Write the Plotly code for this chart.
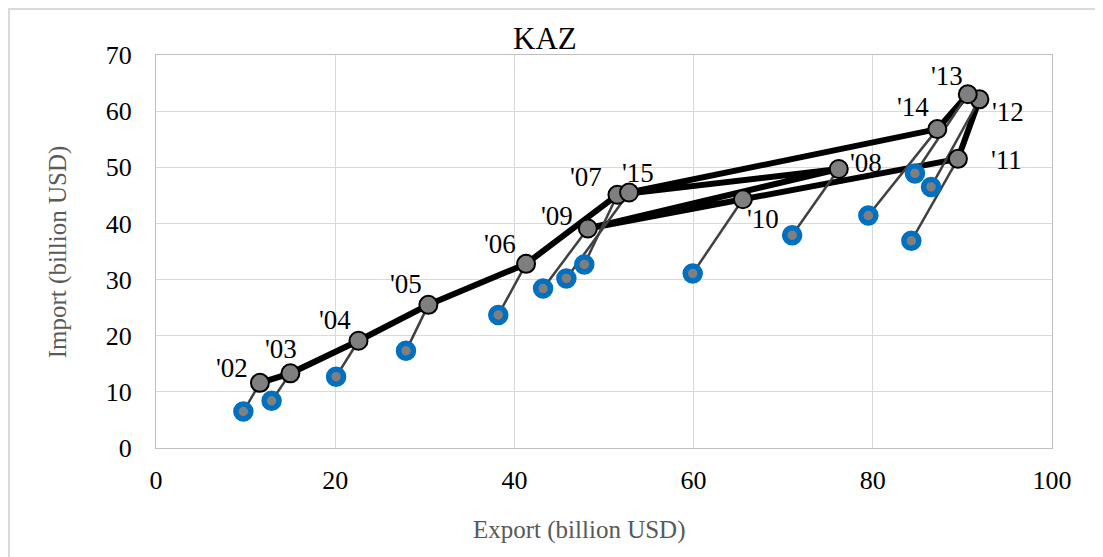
import plotly.graph_objects as go

YEARS = ["'02", "'03", "'04", "'05", "'06", "'07", "'08",
         "'09", "'10", "'11", "'12", "'13", "'14", "'15"]

# upper series (grey markers joined by the thick black path)
EXPORT_A = [11.6, 15.0, 22.6, 30.4, 41.3, 51.5, 76.2, 48.2, 65.5, 89.5, 91.9, 90.6, 87.2, 52.8]
IMPORT_A = [11.6, 13.3, 19.1, 25.5, 32.8, 45.1, 49.7, 39.1, 44.3, 51.5, 62.1, 63.0, 56.8, 45.5]

# lower series (blue ring markers)
EXPORT_B = [9.75, 12.9, 20.1, 27.9, 38.2, 47.8, 71.0, 43.2, 59.9, 84.3, 86.5, 84.7, 79.5, 45.8]
IMPORT_B = [6.5, 8.4, 12.7, 17.3, 23.7, 32.7, 37.9, 28.4, 31.1, 36.9, 46.5, 48.9, 41.4, 30.2]

X_TICKS = [0, 20, 40, 60, 80, 100]
Y_TICKS = [0, 10, 20, 30, 40, 50, 60, 70]

# label offsets in pixels (xshift, yshift)
LABEL_SHIFT = [(-28, 15), (-9, 24), (-24, 21), (-22, 21), (-26, 20), (-31, 18), (27, 6),
               (-31, 12), (20, -20), (49, -1), (29, -13), (-21, 18), (-24, 22), (9, 20)]

FONT = "Liberation Serif, Times New Roman, serif"

cx, cy = [], []
for xa, ya, xb, yb in zip(EXPORT_A, IMPORT_A, EXPORT_B, IMPORT_B):
    cx += [xb, xa, None]
    cy += [yb, ya, None]

fig = go.Figure()
fig.add_trace(go.Scatter(x=EXPORT_A, y=IMPORT_A, mode="lines",
                         line=dict(color="black", width=6), hoverinfo="skip"))
fig.add_trace(go.Scatter(x=cx, y=cy, mode="lines",
                         line=dict(color="#404040", width=2.5), hoverinfo="skip"))
fig.add_trace(go.Scatter(x=EXPORT_B, y=IMPORT_B, mode="markers",
                         marker=dict(size=15, color="#7f7f7f",
                                     line=dict(color="#0070C0", width=5.5))))
fig.add_trace(go.Scatter(x=EXPORT_A, y=IMPORT_A, mode="markers",
                         marker=dict(size=18, color="#7f7f7f",
                                     line=dict(color="black", width=2))))

for lab, xa, ya, (dx, dy) in zip(YEARS, EXPORT_A, IMPORT_A, LABEL_SHIFT):
    fig.add_annotation(x=xa, y=ya, text=lab, showarrow=False, xshift=dx, yshift=dy,
                       font=dict(family=FONT, size=27, color="black"))

fig.add_annotation(x=0.434, y=1.043, xref="paper", yref="paper", text="KAZ",
                   xanchor="center", yanchor="middle",
                   showarrow=False, font=dict(family=FONT, size=31, color="black"))
fig.add_annotation(x=0.473, y=-0.209, xref="paper", yref="paper",
                   text="Export (billion USD)", showarrow=False,
                   xanchor="center", yanchor="middle",
                   font=dict(family=FONT, size=25, color="#595959"))
fig.add_annotation(x=-0.109, y=0.499, xref="paper", yref="paper",
                   text="Import (billion USD)", showarrow=False, textangle=-90,
                   xanchor="center", yanchor="middle",
                   font=dict(family=FONT, size=25, color="#595959"))

# outer chart border
fig.add_shape(type="rect", xref="paper", yref="paper",
              x0=-0.164, x1=1.07, y0=-0.31, y1=1.117,
              line=dict(color="#d9d9d9", width=2), fillcolor="rgba(0,0,0,0)")

fig.update_xaxes(range=[0, 100], tickvals=X_TICKS, showgrid=True, gridcolor="#d9d9d9",
                 gridwidth=1, showline=True, linecolor="#bfbfbf", linewidth=1, mirror=True,
                 zeroline=False, ticks="outside", ticklen=9, tickcolor="rgba(0,0,0,0)",
                 tickfont=dict(family=FONT, size=26, color="black"))
fig.update_yaxes(range=[0, 70], tickvals=Y_TICKS, showgrid=True, gridcolor="#d9d9d9",
                 gridwidth=1, showline=True, linecolor="#bfbfbf", linewidth=1, mirror=True,
                 zeroline=False, ticks="outside", ticklen=18, tickcolor="rgba(0,0,0,0)",
                 tickfont=dict(family=FONT, size=26, color="black"))

fig.update_layout(width=1095, height=549, showlegend=False,
                  paper_bgcolor="white", plot_bgcolor="white",
                  margin=dict(l=148, r=51, t=47, b=109))

fig.write_html("out.html")
